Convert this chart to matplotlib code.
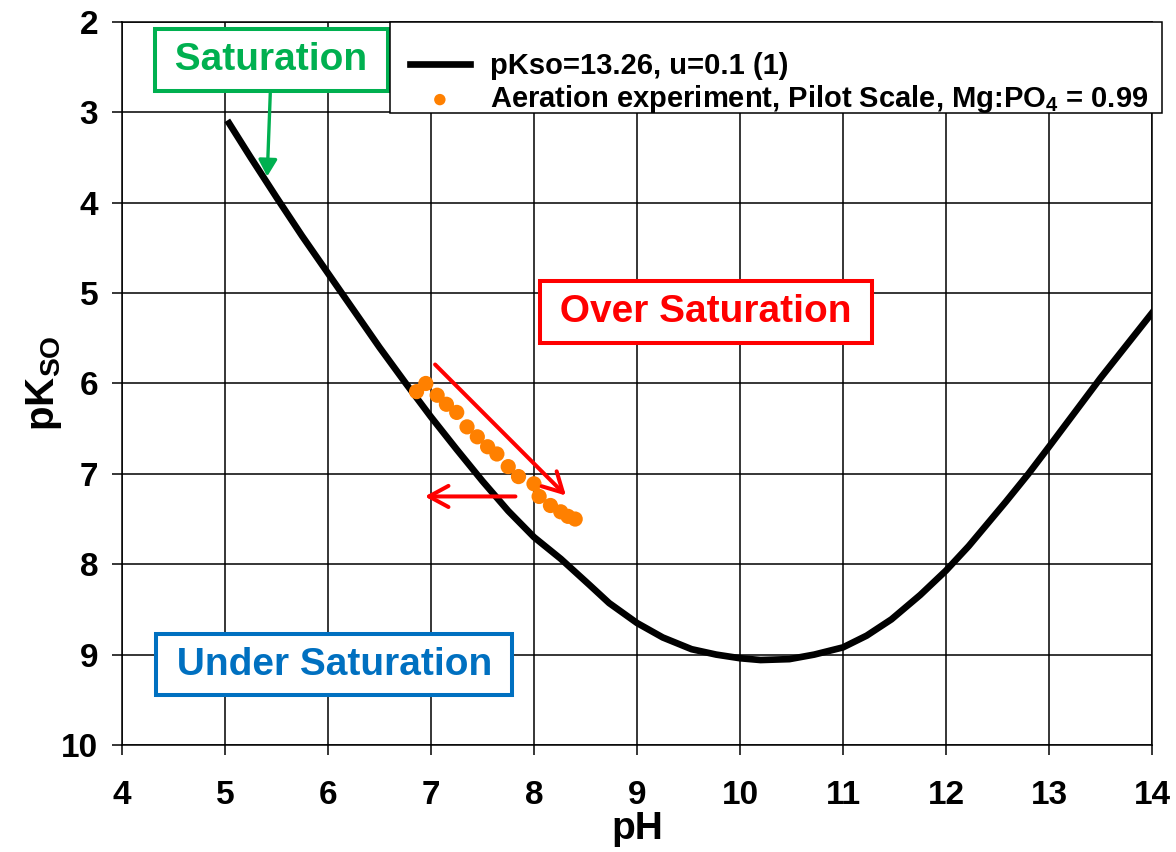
import matplotlib
matplotlib.use("Agg")
import matplotlib.pyplot as plt
from matplotlib.patches import Rectangle

# solubility curve, pKso=13.26, u=0.1
curve_ph = [5.04, 5.25, 5.5, 5.75, 6.0, 6.5, 6.75, 7.0, 7.25, 7.5, 7.75, 8.0,
            8.26, 8.54, 8.73, 9.0, 9.25, 9.53, 9.77, 10.0, 10.2, 10.48, 10.72,
            11.0, 11.23, 11.47, 11.75, 12.0, 12.22, 12.58, 12.8, 13.0, 13.5, 14.0]
curve_pk = [3.12, 3.50, 3.94, 4.37, 4.78, 5.60, 5.99, 6.37, 6.73, 7.08, 7.41, 7.70,
            7.94, 8.23, 8.43, 8.65, 8.81, 8.94, 9.00, 9.04, 9.06, 9.05, 9.00,
            8.92, 8.79, 8.61, 8.34, 8.07, 7.80, 7.31, 7.00, 6.70, 5.94, 5.22]

# aeration experiment, pilot scale
exp_ph = [6.86, 6.95, 7.06, 7.15, 7.25, 7.35, 7.45, 7.55, 7.64, 7.75, 7.85,
          8.00, 8.05, 8.16, 8.26, 8.33, 8.40]
exp_pk = [6.09, 6.00, 6.13, 6.23, 6.32, 6.48, 6.59, 6.70, 6.78, 6.92, 7.03,
          7.11, 7.25, 7.35, 7.42, 7.47, 7.50]

x_ticks = list(range(4, 15))
y_ticks = list(range(2, 11))

plt.rcParams["font.family"] = ["Liberation Sans", "DejaVu Sans"]
plt.rcParams["font.weight"] = "bold"
plt.rcParams["mathtext.fontset"] = "custom"
plt.rcParams["mathtext.bf"] = "Liberation Sans:bold"
plt.rcParams["mathtext.rm"] = "Liberation Sans:bold"
plt.rcParams["mathtext.default"] = "bf"

GREEN = "#00B050"
RED = "#FF0000"
BLUE = "#0070C0"
ORANGE = "#FF8000"

fig = plt.figure(figsize=(11.76, 8.52), dpi=100)
ax = fig.add_axes([0.1037, 0.1256, 0.8759, 0.8486])

ax.plot(curve_ph, curve_pk, color="black", lw=4.8, solid_joinstyle="round",
        label="pKso=13.26, u=0.1 (1)", zorder=3)
ax.scatter(exp_ph, exp_pk, s=120, color=ORANGE, edgecolors="none", zorder=4,
           label="Aeration experiment, Pilot Scale, Mg:PO$_4$ = 0.99")

ax.set_xlim(4, 14)
ax.set_ylim(10, 2)
ax.set_xticks(x_ticks)
ax.set_yticks(y_ticks)
ax.grid(True, color="black", lw=1.1)
ax.set_axisbelow(True)
for sp in ax.spines.values():
    sp.set_color("black")
    sp.set_linewidth(1.1)
ax.tick_params(axis="both", direction="out", length=7, width=1.1, labelsize=24)
ax.tick_params(axis="x", pad=18)
ax.tick_params(axis="y", pad=10)
for lab in ax.get_xticklabels() + ax.get_yticklabels():
    lab.set_fontweight("bold")

ax.set_xlabel("pH", fontsize=28, fontweight="bold", labelpad=0)
ax.set_ylabel("pK$_{SO}$", fontsize=29, fontweight="bold", labelpad=-2)

# region labels
box = dict(boxstyle="square,pad=0.33", facecolor="white", lw=2.9)
ax.text(5.45, 2.42, "\u2009Saturation\u2009", color=GREEN, fontsize=28,
        fontweight="bold", ha="center", va="center", zorder=6,
        bbox=dict(box, edgecolor=GREEN))
ax.text(9.67, 5.21, "\u2009Over Saturation\u2009", color=RED, fontsize=28,
        fontweight="bold", ha="center", va="center", zorder=6,
        bbox=dict(box, edgecolor=RED))
ax.text(6.06, 9.11, "\u2009Under Saturation\u2009", color=BLUE, fontsize=28,
        fontweight="bold", ha="center", va="center", zorder=6,
        bbox=dict(box, edgecolor=BLUE))

# arrows
ax.annotate("", xy=(5.41, 3.71), xytext=(5.44, 2.79), zorder=6,
            arrowprops=dict(arrowstyle="-|>,head_length=0.5,head_width=0.28",
                            mutation_scale=20, color=GREEN, lw=2.4,
                            shrinkA=0, shrinkB=0))
ax.annotate("", xy=(8.31, 7.24), xytext=(7.04, 5.79), zorder=6,
            arrowprops=dict(arrowstyle="->,head_length=0.7,head_width=0.38",
                            mutation_scale=20, color=RED, lw=2.9,
                            shrinkA=0, shrinkB=0))
ax.annotate("", xy=(6.94, 7.25), xytext=(7.82, 7.25), zorder=6,
            arrowprops=dict(arrowstyle="->,head_length=0.7,head_width=0.38",
                            mutation_scale=20, color=RED, lw=2.9,
                            shrinkA=0, shrinkB=0))

# legend: frame drawn separately so it can stick out past the right spine
frame = Rectangle((0.2602, 0.8741), 0.7495, 0.1259, transform=ax.transAxes,
                  facecolor="white", edgecolor="black", lw=1.1, clip_on=False,
                  zorder=8)
ax.add_patch(frame)
leg = ax.legend(loc="upper left", bbox_to_anchor=(0.2796, 0.958), borderaxespad=0,
                fontsize=21, frameon=False, borderpad=0, handlelength=2.05,
                handletextpad=0.7, labelspacing=0.1, markerscale=0.75)
leg.set_zorder(9)
for t in leg.get_texts():
    t.set_fontweight("bold")

fig.savefig("out.png", dpi=100)
